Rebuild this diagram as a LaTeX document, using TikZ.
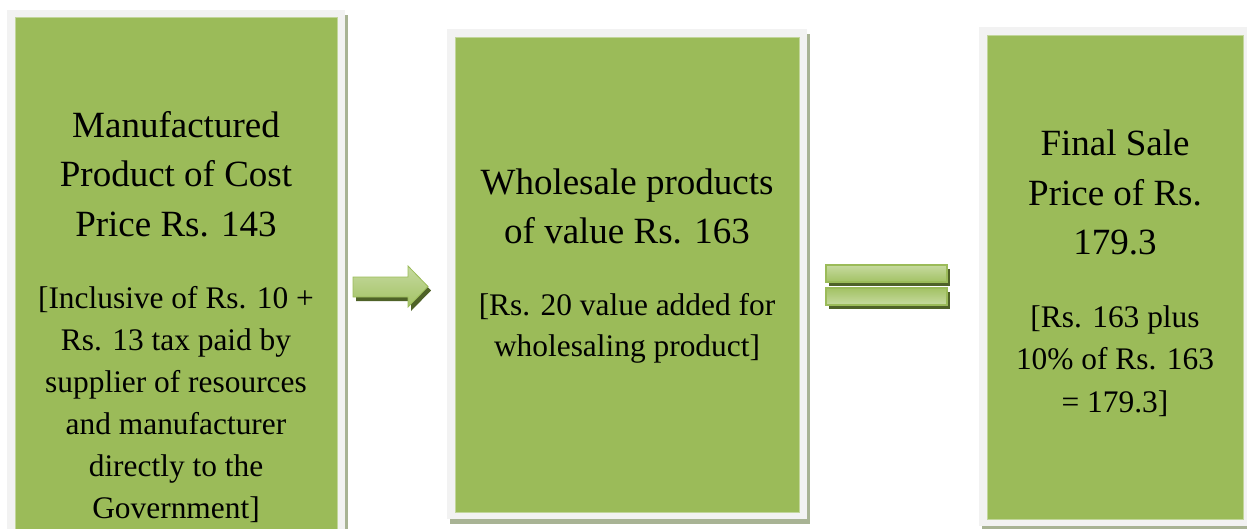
\documentclass[tikz,border=0pt]{standalone}
\usepackage{fontspec}
\setmainfont{Liberation Serif}
\definecolor{boxgreen}{HTML}{9BBB59}
\definecolor{framegray}{HTML}{F2F2F2}
\definecolor{shadowgray}{HTML}{A8B394}
\definecolor{darkolive}{HTML}{4F6228}
\definecolor{edgegreen}{HTML}{C2D69B}
\definecolor{lightgreen}{HTML}{C6DAA0}
\definecolor{midgreen}{HTML}{A3C264}
\tikzset{
  greenbox/.style={fill=boxgreen, draw=edgegreen, line width=0.8pt},
  framebox/.style={fill=framegray},
  shadowbox/.style={fill=shadowgray},
  titletext/.style={anchor=base, inner sep=0pt, font=\fontsize{37}{49}\selectfont},
  bodytext/.style={anchor=base, inner sep=0pt, font=\fontsize{31.4}{42}\selectfont},
  arrowshape/.style={top color=lightgreen, bottom color=midgreen, draw=boxgreen, line width=0.8pt},
  arrowshadow/.style={fill=darkolive},
}
\begin{document}
\begin{tikzpicture}[x=1pt,y=-1pt]
\useasboundingbox (0,0) rectangle (1247,528);
\clip (0,0) rectangle (1247,528);
\fill[white] (0,0) rectangle (1247,528);

% Box 1
\fill[shadowbox] (10,15) rectangle (348,540);
\fill[framebox] (7,10) rectangle (345,540);
\path[greenbox] (15,17) rectangle (337,540);
\node[titletext] (t1a) at (176,137) {Manufactured};
\node[titletext] (t1b) at (176,186) {Product of Cost};
\node[titletext] (t1c) at (176,236) {Price Rs. 143};
\node[bodytext] (n1a) at (176,308) {[Inclusive of Rs. 10 +};
\node[bodytext] (n1b) at (176,350) {Rs. 13 tax paid by};
\node[bodytext] (n1c) at (176,392) {supplier of resources};
\node[bodytext] (n1d) at (176,434) {and manufacturer};
\node[bodytext] (n1e) at (176,476) {directly to the};
\node[bodytext] (n1f) at (176,518) {Government]};

% Box 2
\fill[shadowbox] (450,34) rectangle (810,524);
\fill[framebox] (447,29) rectangle (807,519);
\path[greenbox] (455,37) rectangle (799,512);
\node[titletext] (t2a) at (627,194) {Wholesale products};
\node[titletext] (t2b) at (627,243) {of value Rs. 163};
\node[bodytext] (n2a) at (627,315) {[Rs. 20 value added for};
\node[bodytext] (n2b) at (627,356) {wholesaling product]};

% Box 3
\fill[shadowbox] (982,31) rectangle (1250,528.5);
\fill[framebox] (979,27) rectangle (1250,526);
\path[greenbox] (987,35) rectangle (1243,519);
\node[titletext] (t3a) at (1115,155) {Final Sale};
\node[titletext] (t3b) at (1115,205) {Price of Rs.};
\node[titletext] (t3c) at (1115,254) {179.3};
\node[bodytext] (n3a) at (1115,327) {[Rs. 163 plus};
\node[bodytext] (n3b) at (1115,369) {10\% of Rs. 163};
\node[bodytext] (n3c) at (1115,412) {= 179.3]};

% Arrow
\fill[arrowshadow, shift={(3,4)}] (353,277) -- (408,277) -- (408,266) -- (428,286.5) -- (408,307) -- (408,297) -- (353,297) -- cycle;
\path[arrowshape] (353,277) -- (408,277) -- (408,266) -- (428,286.5) -- (408,307) -- (408,297) -- (353,297) -- cycle;

% Equals
\fill[arrowshadow] (829,269) rectangle (950,286);
\fill[arrowshadow] (829,292) rectangle (950,309);
\path[top color=lightgreen, bottom color=midgreen, draw=boxgreen, line width=1.2pt] (826,265) rectangle (947,282);
\path[top color=midgreen, bottom color=lightgreen, draw=boxgreen, line width=1.2pt] (826,288) rectangle (947,305);
\end{tikzpicture}
\end{document}
